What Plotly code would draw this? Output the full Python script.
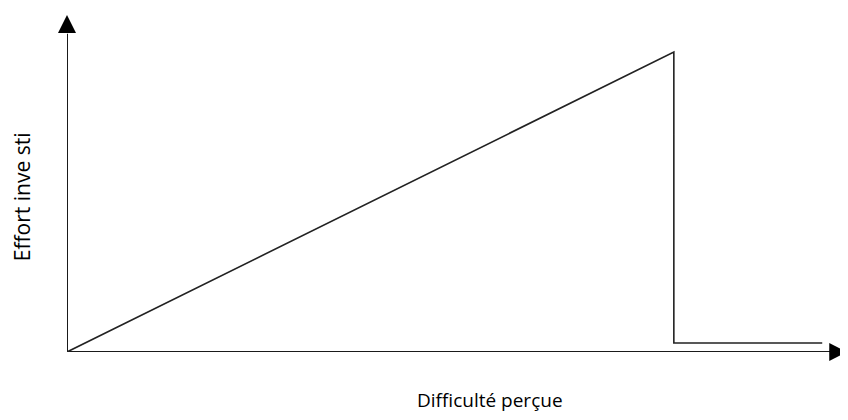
import plotly.graph_objects as go

# courbe effort / difficulté (unités 0-100 sur chaque axe)
curve_x = [0, 77.7, 77.7, 96.7]
curve_y = [0, 87.2, 2.6, 2.6]

# axes avec flèches
xaxis_line_x = [0, 97.8]
xaxis_line_y = [0, 0]
yaxis_line_x = [0, 0]
yaxis_line_y = [0, 92.5]
arrow_x = [99.9, 0]
arrow_y = [0, 98.0]
arrow_symbols = ["arrow-right", "arrow-up"]

x_title = "Difficulté perçue"
y_title = "Effort inve sti"

fig = go.Figure()

fig.add_trace(go.Scatter(
    x=xaxis_line_x, y=xaxis_line_y, mode="lines",
    line=dict(color="#1a1a1a", width=2), hoverinfo="skip", cliponaxis=False,
))
fig.add_trace(go.Scatter(
    x=yaxis_line_x, y=yaxis_line_y, mode="lines",
    line=dict(color="#1a1a1a", width=2), hoverinfo="skip", cliponaxis=False,
))
fig.add_trace(go.Scatter(
    x=arrow_x, y=arrow_y, mode="markers",
    marker=dict(symbol=arrow_symbols, size=18, color="#000000",
                line=dict(width=0)),
    hoverinfo="skip", cliponaxis=False,
))
fig.add_trace(go.Scatter(
    x=curve_x, y=curve_y, mode="lines",
    line=dict(color="#222222", width=1.6), cliponaxis=False,
))

fig.add_annotation(
    text=x_title, xref="paper", yref="paper", x=0.5416, y=-0.1395,
    showarrow=False, xanchor="center", yanchor="middle",
    font=dict(family="Open Sans", size=19, color="#000000"),
)
fig.add_annotation(
    text=y_title, xref="paper", yref="paper", x=-0.0576, y=0.45,
    showarrow=False, textangle=-90, xanchor="center", yanchor="middle",
    font=dict(family="Open Sans", size=21, color="#000000"),
)

fig.update_xaxes(range=[0, 100], visible=False, fixedrange=True)
fig.update_yaxes(range=[0, 100], visible=False, fixedrange=True)

fig.update_layout(
    width=840, height=420,
    margin=dict(l=59, r=0, t=0, b=76),
    paper_bgcolor="white", plot_bgcolor="white",
    showlegend=False,
)

fig.write_html("out.html")
